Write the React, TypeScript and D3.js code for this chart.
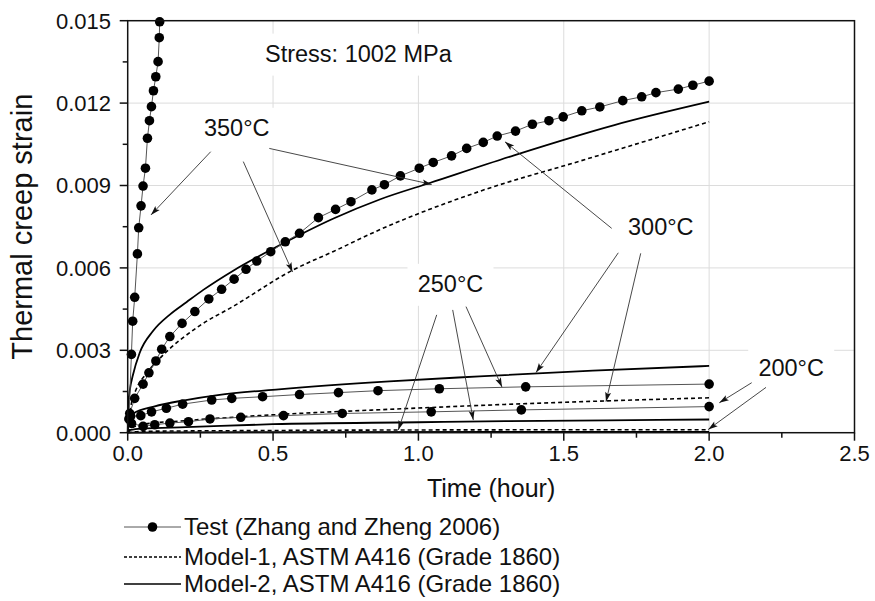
import React from "react";
import * as d3 from "d3";

// ---------- data (time in hours, thermal creep strain) ----------
const test350: [number, number][] = [
  [0.004, 0.0005], [0.0128, 0.00285], [0.0172, 0.00406], [0.0241, 0.00493], [0.0334, 0.00651],
  [0.0379, 0.00746], [0.0459, 0.00826], [0.0528, 0.00898], [0.061, 0.00963], [0.0679, 0.01072],
  [0.0748, 0.01136], [0.0817, 0.01187], [0.0886, 0.01245], [0.0966, 0.01296], [0.1045, 0.01351],
  [0.1086, 0.01438], [0.11, 0.01496],
];
const test300: [number, number][] = [
  [0.007, 0.0007], [0.024, 0.00125], [0.053, 0.00177], [0.073, 0.00218], [0.097, 0.00261],
  [0.117, 0.00304], [0.145, 0.0035], [0.187, 0.00398], [0.231, 0.00441], [0.279, 0.00487],
  [0.323, 0.00522], [0.366, 0.00559], [0.407, 0.00595], [0.444, 0.00625], [0.492, 0.00659],
  [0.542, 0.00695], [0.591, 0.00726], [0.656, 0.00783], [0.715, 0.00813], [0.768, 0.00841],
  [0.84, 0.00884], [0.883, 0.00903], [0.938, 0.00935], [1.003, 0.00963], [1.051, 0.00984],
  [1.114, 0.01008], [1.166, 0.01035], [1.223, 0.01057], [1.271, 0.0108], [1.334, 0.01098],
  [1.392, 0.01123], [1.449, 0.01136], [1.498, 0.0115], [1.562, 0.01172], [1.624, 0.01186],
  [1.703, 0.01209], [1.768, 0.01223], [1.817, 0.01238], [1.894, 0.01251], [1.944, 0.01265],
  [2.0, 0.0128],
];
const test250: [number, number][] = [
  [0.01, 0.0006], [0.045, 0.00062], [0.082, 0.00076], [0.133, 0.00089], [0.189, 0.00104],
  [0.289, 0.00119], [0.358, 0.00125], [0.464, 0.00131], [0.591, 0.00139], [0.725, 0.00146],
  [0.861, 0.00153], [1.072, 0.0016], [1.369, 0.00167], [2.0, 0.00177],
];
const test200: [number, number][] = [
  [0.013, 0.00034], [0.053, 0.00023], [0.093, 0.00029], [0.145, 0.00035], [0.209, 0.0004],
  [0.283, 0.0005], [0.389, 0.00056], [0.536, 0.00062], [0.738, 0.0007], [1.044, 0.00076],
  [1.354, 0.00083], [2.0, 0.00095],
];
const model2_300: [number, number][] = [
  [0, 0], [0.002, 0.001], [0.008, 0.0016], [0.018, 0.0021], [0.041, 0.0029], [0.087, 0.0037],
  [0.145, 0.0043], [0.202, 0.00475], [0.26, 0.0052], [0.363, 0.0059], [0.536, 0.0069],
  [0.708, 0.0078], [0.869, 0.0085], [1.041, 0.0091], [1.329, 0.0101], [1.674, 0.0112],
  [2.0, 0.01205],
];
const model1_300: [number, number][] = [
  [0, 0], [0.01, 0.0009], [0.03, 0.0016], [0.06, 0.0021], [0.11, 0.0027], [0.248, 0.0039],
  [0.363, 0.0046], [0.564, 0.0059], [0.708, 0.0066], [0.869, 0.0074], [1.214, 0.0088],
  [1.559, 0.0099], [2.0, 0.01132],
];
const model2_250: [number, number][] = [
  [0, 0], [0.005, 0.0005], [0.02, 0.0007], [0.09, 0.00095], [0.2, 0.00119], [0.31, 0.00137],
  [0.52, 0.00158], [0.9, 0.00187], [1.21, 0.00205], [1.6, 0.00226], [2.0, 0.00243],
];
const model1_250: [number, number][] = [
  [0, 0], [0.01, 0.00015], [0.05, 0.0003], [0.2, 0.00044], [0.45, 0.00062], [0.94, 0.00087],
  [1.3, 0.00103], [1.65, 0.00116], [2.0, 0.00127],
];
const model2_200: [number, number][] = [
  [0, 0], [0.01, 0.0001], [0.05, 0.00015], [0.2, 0.0002], [0.5, 0.00031], [1.0, 0.00038],
  [1.3, 0.00042], [1.65, 0.00045], [2.0, 0.00048],
];
const model1_200: [number, number][] = [
  [0, 0], [0.05, 0.00005], [0.5, 0.00008], [1.0, 0.0001], [2.0, 0.00011],
];
const model2_200b: [number, number][] = [[0, 0], [0.5, 0.00002], [2.0, 0.00003]];

const testSeries = [test350, test300, test250, test200];
const dashedSeries = [model1_300, model1_250, model1_200];
const solidSeries = [model2_300, model2_250, model2_200, model2_200b];

const xMajor = [0, 0.5, 1.0, 1.5, 2.0, 2.5];
const xMajorLabels = ["0.0", "0.5", "1.0", "1.5", "2.0", "2.5"];
const xMinor = [0.25, 0.75, 1.25, 1.75, 2.25];
const yMajor = [0, 0.003, 0.006, 0.009, 0.012, 0.015];
const yMajorLabels = ["0.000", "0.003", "0.006", "0.009", "0.012", "0.015"];
const yMinor = [0.0015, 0.0045, 0.0075, 0.0105, 0.0135];

// annotation labels: [text, t, strain, anchor]
const labels: [string, number, number, string][] = [
  ["Stress: 1002 MPa", 0.4723, 0.01351, "start"],
  ["350°C", 0.375, 0.01081, "middle"],
  ["300°C", 1.8337, 0.0072, "middle"],
  ["250°C", 1.1103, 0.00513, "middle"],
  ["200°C", 2.2823, 0.00208, "middle"],
];
// arrows: [t0, s0, t1, s1] (tip at t1, s1)
const arrows: [number, number, number, number][] = [
  [0.2855, 0.01023, 0.0801, 0.00793],
  [0.3976, 0.00987, 0.5669, 0.00585],
  [0.4871, 0.01035, 1.0457, 0.00904],
  [1.6648, 0.00744, 1.2978, 0.01059],
  [1.6875, 0.00655, 1.4045, 0.00219],
  [1.7646, 0.00653, 1.6452, 0.00113],
  [1.0629, 0.00429, 0.9308, 0.0001],
  [1.1179, 0.00447, 1.1888, 0.00046],
  [1.1637, 0.00459, 1.2875, 0.00166],
  [2.1464, 0.00182, 2.035, 0.00109],
  [2.1956, 0.00165, 1.9971, 0.00012],
];

const legendItems = [
  "Test (Zhang and Zheng 2006)",
  "Model-1, ASTM A416 (Grade 1860)",
  "Model-2, ASTM A416 (Grade 1860)",
];

const FONT = "'Liberation Sans', Arial, Helvetica, sans-serif";

export default function App() {
  const W = 875, H = 601;
  const x = d3.scaleLinear().domain([0, 2.5]).range([127.7, 854.5]);
  const y = d3.scaleLinear().domain([0, 0.015]).range([432.7, 20.7]);
  const [x0, x1] = x.range();
  const [y0, y1] = y.range();

  const straight = d3.line<[number, number]>().x((d) => x(d[0])).y((d) => y(d[1]));
  const smooth = d3
    .line<[number, number]>()
    .x((d) => x(d[0]))
    .y((d) => y(d[1]))
    .curve(d3.curveMonotoneX);

  const boxW = (s: string) => (s.length > 6 ? 208 : 86);

  return (
    <div style={{ position: "fixed", left: 0, top: 0, width: W, height: H, background: "#fff" }}>
      <svg width={W} height={H} style={{ display: "block" }} fontFamily={FONT}>
        <defs>
          <marker
            id="ah"
            viewBox="-10 -5 10 10"
            refX={0}
            refY={0}
            markerWidth={10}
            markerHeight={10}
            markerUnits="userSpaceOnUse"
            orient="auto"
          >
            <path d="M0,0 L-9.5,-3 L-7.5,0 L-9.5,3 Z" fill="#111" />
          </marker>
        </defs>
        <rect x={0} y={0} width={W} height={H} fill="#fff" />

        {/* grid */}
        {xMajor.slice(1, -1).map((v) => (
          <line key={"gx" + v} x1={x(v)} x2={x(v)} y1={y0} y2={y1} stroke="#dcdcdc" strokeWidth={1} />
        ))}
        {yMajor.slice(1, -1).map((v) => (
          <line key={"gy" + v} x1={x0} x2={x1} y1={y(v)} y2={y(v)} stroke="#dcdcdc" strokeWidth={1} />
        ))}

        {/* label backgrounds */}
        {labels.map(([s, t, v, a]) => {
          const w = boxW(s);
          const cx = a === "start" ? x(t) - 8 : x(t) - w / 2;
          return <rect key={"bg" + s} x={cx} y={y(v) - 28} width={w} height={42} fill="#fff" />;
        })}

        {/* model curves */}
        {dashedSeries.map((d, i) => (
          <path key={"m1" + i} d={smooth(d) || ""} fill="none" stroke="#000" strokeWidth={1.6} strokeDasharray="4,3" />
        ))}
        {solidSeries.map((d, i) => (
          <path key={"m2" + i} d={smooth(d) || ""} fill="none" stroke="#000" strokeWidth={1.8} />
        ))}

        {/* test series */}
        {testSeries.map((d, i) => (
          <g key={"t" + i}>
            <path d={straight(d) || ""} fill="none" stroke="#555" strokeWidth={1} />
            {d.map((p, j) => (
              <circle key={j} cx={x(p[0])} cy={y(p[1])} r={4.8} fill="#000" />
            ))}
          </g>
        ))}

        {/* arrows */}
        {arrows.map(([a, b, c, e], i) => (
          <line
            key={"ar" + i}
            x1={x(a)}
            y1={y(b)}
            x2={x(c)}
            y2={y(e)}
            stroke="#333"
            strokeWidth={0.9}
            markerEnd="url(#ah)"
          />
        ))}

        {/* labels */}
        {labels.map(([s, t, v, a]) => (
          <text key={"lb" + s} x={x(t)} y={y(v)} fontSize={23.5} textAnchor={a} fill="#111">
            {s}
          </text>
        ))}

        {/* frame */}
        <rect x={x0} y={y1} width={x1 - x0} height={y0 - y1} fill="none" stroke="#111" strokeWidth={1.5} />

        {/* x ticks */}
        {xMajor.map((v) => (
          <line key={"xt" + v} x1={x(v)} x2={x(v)} y1={y0} y2={y0 + 8} stroke="#111" strokeWidth={1.5} />
        ))}
        {xMinor.map((v) => (
          <line key={"xm" + v} x1={x(v)} x2={x(v)} y1={y0} y2={y0 + 5} stroke="#111" strokeWidth={1.5} />
        ))}
        {xMajor.map((v, i) => (
          <text key={"xl" + v} x={x(v)} y={461} fontSize={22} textAnchor="middle" fill="#111">
            {xMajorLabels[i]}
          </text>
        ))}

        {/* y ticks */}
        {yMajor.map((v) => (
          <line key={"yt" + v} x1={x0 - 8} x2={x0} y1={y(v)} y2={y(v)} stroke="#111" strokeWidth={1.5} />
        ))}
        {yMinor.map((v) => (
          <line key={"ym" + v} x1={x0 - 5} x2={x0} y1={y(v)} y2={y(v)} stroke="#111" strokeWidth={1.5} />
        ))}
        {yMajor.map((v, i) => (
          <text key={"yl" + v} x={111} y={y(v)} dy="0.36em" fontSize={22} textAnchor="end" fill="#111">
            {yMajorLabels[i]}
          </text>
        ))}

        {/* axis titles */}
        <text x={(x0 + x1) / 2} y={497} fontSize={25} textAnchor="middle" fill="#111">
          Time (hour)
        </text>
        <text
          transform={`translate(32,${(y0 + y1) / 2}) rotate(-90)`}
          fontSize={29}
          textAnchor="middle"
          fill="#111"
        >
          Thermal creep strain
        </text>

        {/* legend */}
        <g>
          <line x1={124} x2={181} y1={527} y2={527} stroke="#555" strokeWidth={1} />
          <circle cx={152.5} cy={527} r={4.8} fill="#000" />
          <line x1={124} x2={181} y1={557} y2={557} stroke="#000" strokeWidth={1.4} strokeDasharray="3,2" />
          <line x1={124} x2={181} y1={584} y2={584} stroke="#000" strokeWidth={1.6} />
          {legendItems.map((s, i) => (
            <text key={s} x={184} y={[535, 565, 592][i]} fontSize={24} fill="#111">
              {s}
            </text>
          ))}
        </g>
      </svg>
    </div>
  );
}
